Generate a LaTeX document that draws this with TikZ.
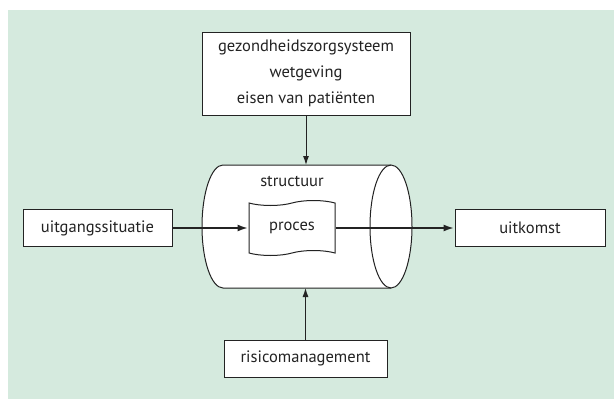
\documentclass[tikz,border=0pt]{standalone}
\usepackage{fontspec}
\setmainfont{PT Sans}
\usetikzlibrary{arrows.meta,shapes.symbols}
\begin{document}
\begin{tikzpicture}[x=1pt,y=-1pt,
  font=\fontsize{16.5}{26}\selectfont,
  box/.style={draw=ink,fill=white,line width=1pt,text=ink,
    inner sep=0pt,align=center},
  arr/.style={draw=ink,line width=1pt,-{Latex[length=9pt,width=6pt]}},
  flow/.style={draw=ink,line width=2.2pt,-{Latex[length=11pt,width=7pt]}}]
 \definecolor{bg}{RGB}{213,234,222}
 \definecolor{ink}{RGB}{35,35,35}
 \useasboundingbox (0,0) rectangle (614,399);
 \fill[bg] (8,10) rectangle (614,399);
 % outer boxes
 \node[box,minimum width=208pt,minimum height=83pt] (eisen) at (306,73.5)
   {gezondheidszorgsysteem\\wetgeving\\eisen van patiënten};
 \node[box,minimum width=149pt,minimum height=37pt] (start) at (97.5,228)
   {uitgangssituatie};
 \node[box,minimum width=150pt,minimum height=37pt] (uitkomst) at (530,228)
   {uitkomst};
 \node[box,minimum width=163pt,minimum height=37pt] (risico) at (305.5,358.5)
   {risicomanagement};
 % cylinder with the process inside
 \path[draw=ink,fill=white,line width=1pt] (223,165) -- (391,165)
   arc [start angle=270,end angle=450,x radius=21,y radius=61.5]
   -- (223,288)
   arc [start angle=90,end angle=270,x radius=21,y radius=61.5] -- cycle;
 \draw[ink,line width=1pt] (391,165)
   arc [start angle=270,end angle=90,x radius=21,y radius=61.5];
 \coordinate (cyltop) at (306,165);
 \coordinate (cylbot) at (306,288);
 \node[text=ink] (structuur) at (292,181) {structuur};
 \node[box,tape,minimum width=86pt,minimum height=55pt] (proces) at (292,228)
   {proces};
 % connectors
 \draw[arr] (eisen.south) -- (eisen.south |- cyltop);
 \draw[arr] (risico.north) -- (risico.north |- cylbot);
 \draw[flow] (start.east) -- (proces.west);
 \draw[flow] (proces.east) -- (uitkomst.west);
\end{tikzpicture}
\end{document}
